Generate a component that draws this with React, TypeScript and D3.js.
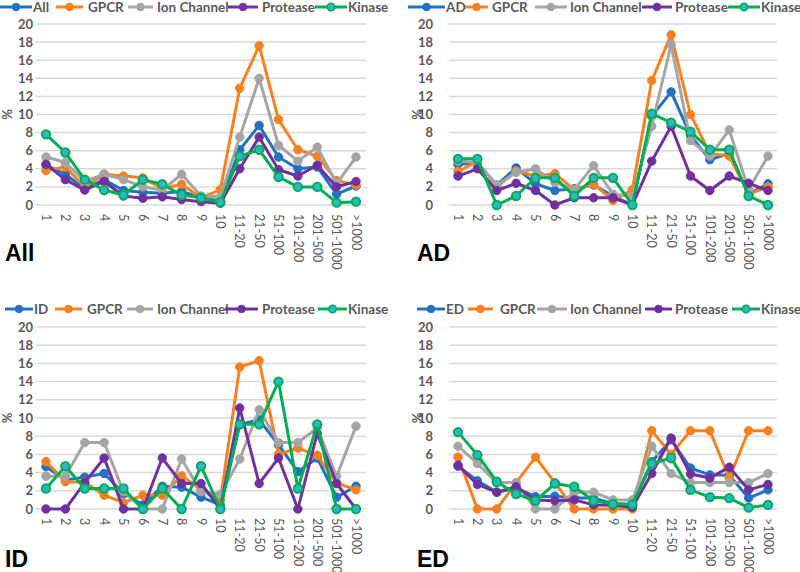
import React from "react";
import * as d3 from "d3";

const categories = ["1", "2", "3", "4", "5", "6", "7", "8", "9", "10", "11-20", "21-50", "51-100", "101-200", "201-500", "501-1000", ">1000"];
const yTicks = [0, 2, 4, 6, 8, 10, 12, 14, 16, 18, 20];
const seriesNames = ["GPCR", "Ion Channel", "Protease", "Kinase"];
const panelNames = ["All", "AD", "ID", "ED"];

// Panel "All"
const allAll = [4.4, 3.4, 1.8, 2.8, 1.6, 1.4, 1.3, 1.5, 0.8, 0.45, 6.1, 8.8, 5.3, 4.0, 4.2, 1.2, 2.1];
const allGPCR = [3.8, 4.2, 2.0, 3.4, 3.2, 3.0, 1.8, 2.3, 0.8, 1.7, 12.9, 17.6, 9.45, 6.1, 5.4, 2.7, 2.2];
const allIon = [5.3, 4.7, 2.6, 3.4, 2.8, 2.0, 1.65, 3.4, 1.0, 0.9, 7.5, 14.0, 6.6, 4.85, 6.4, 2.35, 5.3];
const allProtease = [4.5, 2.8, 1.65, 2.6, 1.0, 0.74, 0.9, 0.6, 0.37, 0.2, 4.0, 7.5, 3.9, 3.2, 4.4, 2.0, 2.6];
const allKinase = [7.8, 5.8, 2.8, 1.65, 1.1, 2.8, 2.3, 1.1, 0.8, 0.3, 5.4, 6.1, 3.1, 2.0, 2.0, 0.26, 0.37];

// Panel "AD"
const adAD = [4.5, 4.6, 2.2, 4.1, 2.35, 1.6, 1.8, 2.2, 1.0, 0, 9.8, 12.5, 7.7, 5.0, 5.7, 1.2, 2.35];
const adGPCR = [3.7, 4.8, 2.0, 3.75, 3.2, 3.45, 1.7, 2.3, 0.5, 1.7, 13.75, 18.8, 10.0, 5.7, 5.4, 1.2, 2.0];
const adIon = [4.85, 4.7, 2.2, 3.6, 4.0, 2.5, 1.7, 4.35, 1.2, 1.0, 8.7, 17.7, 7.1, 5.4, 8.3, 1.7, 5.4];
const adProtease = [3.2, 4.0, 1.6, 2.4, 1.6, 0, 0.8, 0.8, 0.8, 0, 4.85, 8.7, 3.2, 1.6, 3.2, 2.4, 1.6];
const adKinase = [5.1, 5.1, 0, 1.0, 3.0, 3.0, 1.0, 3.0, 3.0, 0, 10.1, 9.1, 8.1, 6.1, 6.1, 1.0, 0];

// Panel "ID"
const idID = [4.65, 3.2, 3.5, 3.9, 1.7, 0.45, 2.5, 2.4, 1.3, 0.45, 9.3, 9.8, 7.05, 4.1, 5.6, 1.3, 2.5];
const idGPCR = [5.2, 3.0, 2.95, 1.5, 0.7, 1.5, 1.5, 3.65, 2.1, 1.0, 15.6, 16.3, 6.0, 6.7, 5.9, 2.85, 2.1];
const idIon = [3.6, 3.6, 7.3, 7.3, 1.9, 0, 0, 5.5, 1.9, 1.6, 5.5, 10.9, 7.3, 7.3, 8.9, 3.6, 9.1];
const idProtease = [0, 0, 2.9, 5.6, 0, 0, 5.6, 2.8, 2.8, 0, 11.1, 2.8, 5.6, 0, 8.3, 2.8, 0];
const idKinase = [2.25, 4.7, 2.25, 2.25, 2.25, 0, 2.25, 0, 4.7, 0, 9.3, 9.3, 14.0, 2.25, 9.3, 0, 0];

// Panel "ED"
const edED = [4.7, 3.1, 1.85, 2.3, 1.35, 1.4, 1.2, 1.2, 0.6, 0.5, 5.2, 7.6, 4.5, 3.75, 3.7, 1.2, 2.1];
const edGPCR = [5.7, 0, 0, 2.9, 5.7, 2.9, 0, 0, 0, 0, 8.6, 6.0, 8.6, 8.6, 3.4, 8.6, 8.6];
const edIon = [6.9, 5.0, 2.9, 2.9, 0, 0, 1.85, 1.85, 1.0, 1.0, 6.9, 3.9, 2.9, 2.9, 2.9, 2.9, 3.9];
const edProtease = [4.8, 2.7, 1.85, 2.45, 1.0, 0.9, 1.0, 0.45, 0.4, 0.2, 3.9, 7.8, 3.85, 3.4, 4.6, 2.1, 2.7];
const edKinase = [8.45, 5.95, 3.0, 1.65, 0.9, 2.8, 2.45, 0.9, 0.55, 0.5, 5.0, 5.6, 2.1, 1.3, 1.2, 0.15, 0.45];

const panelSeries = [
  [allAll, allGPCR, allIon, allProtease, allKinase],
  [adAD, adGPCR, adIon, adProtease, adKinase],
  [idID, idGPCR, idIon, idProtease, idKinase],
  [edED, edGPCR, edIon, edProtease, edKinase],
];

const colors = ["#2272C3", "#F7811F", "#A5A5A5", "#7030A0", "#00B050"];
const markerFill = ["#2272C3", "#F7811F", "#A5A5A5", "#7030A0", "#2EB5CC"];

// Layout
const layouts = [
  { x0: 46, x1: 356, g0: 36, g1: 366, yB: 205, yT: 24, labX: 33, pctX: 7, legY: 7, labelX: 5, labelY: 261,
    leg: [[0, 32, 33], [56, 83, 88], [128, 153, 157], [228, 258, 262], [315, 347, 348]] },
  { x0: 458, x1: 768, g0: 449, g1: 777, yB: 205, yT: 24, labX: 433, pctX: 417, legY: 7, labelX: 417, labelY: 261,
    leg: [[408, 445, 446], [465, 488, 492], [535, 567, 570], [642, 672, 675], [728, 760, 761]] },
  { x0: 46, x1: 356, g0: 36, g1: 366, yB: 509, yT: 327, labX: 33, pctX: 7, legY: 309, labelX: 5, labelY: 567,
    leg: [[5, 33, 34], [55, 82, 87], [127, 153, 157], [225, 258, 262], [318, 347, 348]] },
  { x0: 458, x1: 768, g0: 449, g1: 777, yB: 509, yT: 327, labX: 433, pctX: 417, legY: 309, labelX: 417, labelY: 567,
    leg: [[417, 445, 446], [468, 493, 500], [537, 567, 570], [645, 672, 675], [732, 760, 761]] },
];

const textColor = "#595959";
const font = "Lato, 'Open Sans', sans-serif";

function Panel({ idx }: { idx: number }) {
  const L = layouts[idx];
  const data = panelSeries[idx];
  const names = [panelNames[idx], ...seriesNames];
  const x = d3.scalePoint<string>().domain(categories).range([L.x0, L.x1]);
  const y = d3.scaleLinear().domain([0, 20]).range([L.yB, L.yT]);
  const line = d3
    .line<number>()
    .x((_, i) => x(categories[i]) as number)
    .y((d) => y(d));
  return (
    <g>
      {yTicks.map((t) => (
        <g key={"g" + t}>
          <line x1={L.g0} x2={L.g1} y1={y(t)} y2={y(t)} stroke="#D9D9D9" strokeWidth={1.5} />
          <text x={L.labX} y={y(t)} dy="0.35em" textAnchor="end" fontSize={13} fontWeight="bold" fill={textColor} fontFamily={font}>
            {t}
          </text>
        </g>
      ))}
      <text transform={`translate(${L.pctX},${y(10)}) rotate(-90)`} textAnchor="middle" dy="0.35em" fontSize={13} fontWeight="bold" fill={textColor} fontFamily={font}>
        %
      </text>
      {categories.map((c) => (
        <text key={"c" + c} transform={`translate(${x(c)},${L.yB + 9}) rotate(90)`} dy="0.35em" textAnchor="start" fontSize={12.5} fill={textColor} fontFamily={font}>
          {c}
        </text>
      ))}
      {data.map((s, si) => (
        <g key={"s" + si}>
          <path d={line(s) as string} fill="none" stroke={colors[si]} strokeWidth={3} strokeLinejoin="round" />
          {s.map((v, i) => (
            <circle key={i} cx={x(categories[i])} cy={y(v)} r={4.2} fill={markerFill[si]} stroke={colors[si]} strokeWidth={si === 4 ? 2 : 1} />
          ))}
        </g>
      ))}
      {names.map((n, i) => {
        const [a, b, t] = L.leg[i];
        return (
          <g key={"l" + i}>
            <line x1={a} x2={b} y1={L.legY} y2={L.legY} stroke={colors[i]} strokeWidth={3} />
            <circle cx={(a + b) / 2} cy={L.legY} r={3.8} fill={markerFill[i]} stroke={colors[i]} strokeWidth={i === 4 ? 1.5 : 1} />
            <text x={t} y={L.legY} dy="0.35em" fontSize={13.5} fontWeight="bold" fill={textColor} fontFamily={font}>
              {n}
            </text>
          </g>
        );
      })}
      <text x={L.labelX} y={L.labelY} fontSize={23} fontWeight="bold" fill="#000" fontFamily="'Liberation Sans', Arial, sans-serif">
        {panelNames[idx]}
      </text>
    </g>
  );
}

export default function App() {
  return (
    <svg width={800} height={572} style={{ position: "absolute", left: 0, top: 0, background: "#fff" }}>
      <rect width={800} height={572} fill="#fff" />
      {[0, 1, 2, 3].map((i) => (
        <Panel key={i} idx={i} />
      ))}
    </svg>
  );
}
